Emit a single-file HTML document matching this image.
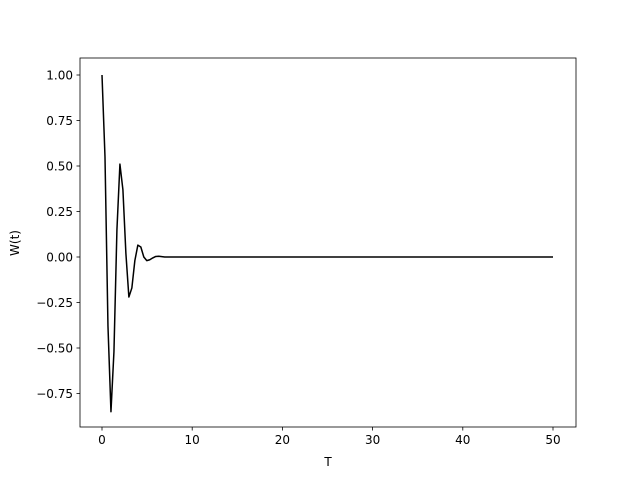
<!DOCTYPE html>
<html><head><meta charset="utf-8"><style>
body{margin:0;background:#fff}
svg text{font-family:"DejaVu Sans","Liberation Sans",sans-serif;font-size:12px;fill:#000}
</style></head><body>
<svg id="chart" width="640" height="480"></svg>
<script>
const xTicks=[0,10,20,30,40,50];
const yTicks=[-0.75,-0.5,-0.25,0,0.25,0.5,0.75,1.0];
const yTickLabels=["−0.75","−0.50","−0.25","0.00","0.25","0.50","0.75","1.00"];
const tStart=0, tEnd=50;
const wValues=[1.0,0.55,-0.38,-0.85,-0.52,0.15,0.51,0.37,0.02,-0.22,-0.17,-0.02,0.065,0.055,0.0,-0.02,-0.015,-0.005,0.003,0.004,0.002,
0,0,0,0,0,0,0,0,0,0,0,0,0,0,0,0,0,0,0,0,0,0,0,0,0,0,0,0,0,0,0,0,0,0,0,0,0,0,0,0,0,0,0,0,0,0,0,0,0,0,0,0,0,0,0,0,0,0,0,0,0,0,0,0,0,0,0,0,0,0,0,0,0,0,0,0,0,0,0,0,0,0,0,0,0,0,0,0,0,0,0,0,0,0,0,0,0,0,0,0,0,0,0,0,0,0,0,0,0,0,0,0,0,0,0,0,0,0,0,0,0,0,0,0,0,0,0,0,0,0,0];
const L=80,R=576,T=58,B=427;
const xs=v=>102+(v-0)*(553-102)/50;
const ys=v=>257-v*182;
const svg=document.getElementById('chart');
const NS='http://www.w3.org/2000/svg';
function mk(tag,attrs,parent){const e=document.createElementNS(NS,tag);for(const k in attrs)e.setAttribute(k,attrs[k]);(parent||svg).appendChild(e);return e;}
const n=wValues.length;
let d='';
wValues.forEach((v,i)=>{const t=tStart+(tEnd-tStart)*i/(n-1);d+=(i?'L':'M')+xs(t).toFixed(2)+','+ys(v).toFixed(2);});
const line=mk('path',{d:d,fill:'none',stroke:'#000','stroke-width':1.5,'stroke-linejoin':'round'});


const frame=mk('rect',{x:L,y:T,width:R-L,height:B-T,fill:'none',stroke:'#000','stroke-width':0.8});


xTicks.forEach(v=>{
  mk('line',{x1:xs(v),x2:xs(v),y1:B,y2:B+3.5,stroke:'#000','stroke-width':0.8});
  const t=mk('text',{x:xs(v),y:B+17,'text-anchor':'middle'});t.textContent=v;
  
  
});
yTicks.forEach((v,i)=>{
  mk('line',{x1:L-3.5,x2:L,y1:ys(v),y2:ys(v),stroke:'#000','stroke-width':0.8});
  const t=mk('text',{x:L-7,y:ys(v)+4.3,'text-anchor':'end'});t.textContent=yTickLabels[i];
  
  
});
const xl=mk('text',{x:328,y:466,'text-anchor':'middle'});xl.textContent='T';


const yl=mk('text',{x:19,y:243,'text-anchor':'middle',transform:'rotate(-90 19 243)'});yl.textContent='W(t)';


</script>
</body></html>
